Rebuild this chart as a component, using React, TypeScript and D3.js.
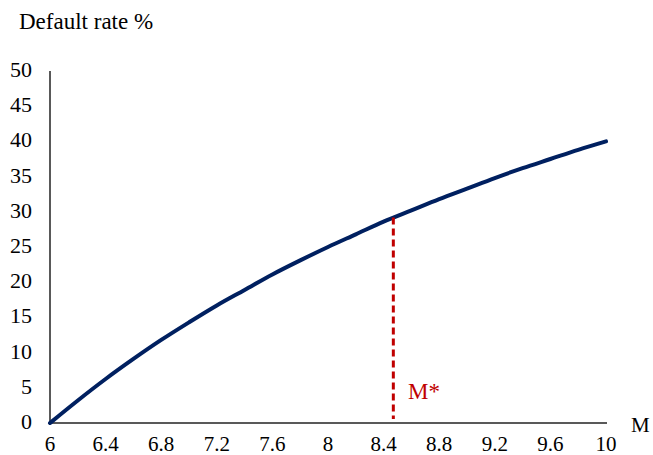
import React from "react";
import * as d3 from "d3";

const mValues = [6, 6.2, 6.4, 6.6, 6.8, 7.0, 7.2, 7.4, 7.6, 7.8, 8.0, 8.2, 8.4, 8.6, 8.8, 9.0, 9.2, 9.4, 9.6, 9.8, 10];
const defaultRates = [0, 3.2, 6.25, 9.1, 11.8, 14.3, 16.7, 18.9, 21.1, 23.1, 25.0, 26.8, 28.6, 30.2, 31.8, 33.3, 34.8, 36.2, 37.5, 38.8, 40.0];
const xTicks = [6, 6.4, 6.8, 7.2, 7.6, 8, 8.4, 8.8, 9.2, 9.6, 10];
const yTicks = [0, 5, 10, 15, 20, 25, 30, 35, 40, 45, 50];
const mStar = 8.47;
const mStarRate = 29.2;

export default function App() {
  const W = 653, H = 455;
  const x = d3.scaleLinear().domain([6, 10]).range([50, 606]);
  const y = d3.scaleLinear().domain([0, 50]).range([423, 71]);
  const pts = mValues.map((m, i) => [m, defaultRates[i]] as [number, number]);
  const line = d3.line<[number, number]>().x(d => x(d[0])).y(d => y(d[1])).curve(d3.curveMonotoneX);
  const font = "Liberation Serif, Times New Roman, serif";
  return (
    <svg width={W} height={H} style={{ position: "absolute", left: 0, top: 0, background: "#fff", fontFamily: font }}>
      <line x1={x(6)} x2={x(10) + 1} y1={y(0)} y2={y(0)} stroke="#222" strokeWidth={1.5} />
      <line x1={x(6)} x2={x(6)} y1={y(0)} y2={y(50)} stroke="#222" strokeWidth={1.5} />
      {yTicks.map(t => (
        <text key={"y" + t} x={32} y={y(t) + 6} textAnchor="end" fontSize={22} fill="#000">{t}</text>
      ))}
      {xTicks.map(t => (
        <text key={"x" + t} x={x(t)} y={451} textAnchor="middle" fontSize={21} fill="#000">{t}</text>
      ))}
      <text x={19} y={29} fontSize={23} fill="#000">Default rate %</text>
      <text x={631} y={432} fontSize={21} fill="#000">M</text>
      <path d={line(pts) || ""} fill="none" stroke="#002060" strokeWidth={4} strokeLinecap="round" />
      <line x1={x(mStar)} x2={x(mStar)} y1={y(mStarRate)} y2={y(0) - 4} stroke="#c00000" strokeWidth={3} strokeDasharray="7,4" />
      <text x={408} y={399} fontSize={23} fill="#c00000">M*</text>
    </svg>
  );
}
